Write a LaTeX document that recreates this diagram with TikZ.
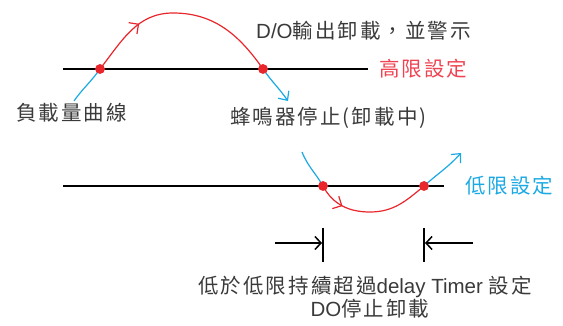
\documentclass[tikz,border=0pt]{standalone}
\usepackage{fontspec}
\setmainfont{Liberation Sans}
\newfontfamily\cjk[LetterSpace=10]{Noto Sans CJK TC}
\usetikzlibrary{arrows.meta,decorations.markings}
\newcommand\zh[1]{{\cjk #1}}
\definecolor{cred}{HTML}{E8262B}
\definecolor{cblue}{HTML}{1BA9E4}
\definecolor{tred}{HTML}{EE4352}
\definecolor{txt}{HTML}{3A3A3A}
\begin{document}
\begin{tikzpicture}[x=1pt,y=-1pt,
  base/.style={black,line width=1.4pt},
  redc/.style={cred,line width=1.2pt},
  bluec/.style={cblue,line width=1.2pt},
  barb/.style={-{Straight Barb[length=7pt,width=13pt,line width=1.2pt]}},
  midarrow/.style={postaction={decorate},decoration={markings,
     mark=at position #1 with {\arrow{Straight Barb[length=7pt,width=14pt,line width=1.2pt]}}}},
  dot/.style={circle,fill=cred,inner sep=0pt,minimum size=9.5pt},
  lbl/.style={font=\fontsize{20.5}{24}\selectfont,text=txt,inner sep=0pt},
  dim/.style={black,line width=1.5pt,-{Straight Barb[length=6pt,width=13pt,line width=1.5pt]}},
  tick/.style={black,line width=1.2pt}]
\useasboundingbox (0,0) rectangle (563,326);
% top line
\coordinate (t1) at (63,69);
\coordinate (t2) at (368,69);
\draw[base] (t1) -- (t2);
\node[dot] (A) at (100,69) {};
\node[dot] (B) at (263,69) {};
\coordinate (pk) at (173,13);
\coordinate (s1) at (74,101);
\coordinate (e1) at (288,101);
\draw[bluec] (s1) to[out=55,in=235] (A.center);
\draw[redc,midarrow=0.29] (A.center) to[out=52,in=180] (pk) to[out=0,in=125] (B.center);
\draw[bluec,barb] (B.center) to[out=-55,in=125] (e1);
\node[dot] at (A) {};
\node[dot] at (B) {};
% top labels
\node[lbl,anchor=west] (l1) at (16,113) {\zh{負載量曲線}};
\node[lbl,anchor=west] (l2) at (256,31) {D/O\zh{輸出卸載，並警示}};
\node[lbl,anchor=west,text=tred] (l3) at (379,69) {\zh{高限設定}};
\node[lbl,anchor=west] (l4) at (230,118) {\zh{蜂鳴器停止(卸載中)}};
% bottom line
\coordinate (b1) at (63,186);
\coordinate (b2) at (444,186);
\draw[base] (b1) -- (b2);
\node[dot] (C) at (323,186) {};
\node[dot] (D) at (424,186) {};
\coordinate (mn) at (370,212);
\coordinate (s2) at (302,152);
\coordinate (e2) at (461,153);
\draw[bluec] (s2) to[out=-68,in=120] (C.center);
\draw[redc,midarrow=0.24] (C.center) to[out=-62,in=180] (mn) to[out=0,in=-140] (D.center);
\draw[bluec,barb] (D.center) to[out=42,in=228] (e2);
\node[dot] at (C) {};
\node[dot] at (D) {};
\node[lbl,anchor=west,text=cblue] (l5) at (465,186) {\zh{低限設定}};
% dimension marks
\coordinate (v1a) at (323,228); \coordinate (v1b) at (323,262);
\coordinate (v2a) at (424,228); \coordinate (v2b) at (424,262);
\draw[tick] (v1a) -- (v1b);
\draw[tick] (v2a) -- (v2b);
\coordinate (d1) at (275,243); \coordinate (d1e) at (322,243);
\coordinate (d2) at (473,243); \coordinate (d2e) at (425,243);
\draw[dim] (d1) -- (d1e);
\draw[dim] (d2) -- (d2e);
\node[lbl] (l6) at (365,287) {\zh{低於低限持續超過}delay Timer \zh{設定}};
\node[lbl] (l7) at (370,309) {DO\zh{停止卸載}};
\end{tikzpicture}
\end{document}
